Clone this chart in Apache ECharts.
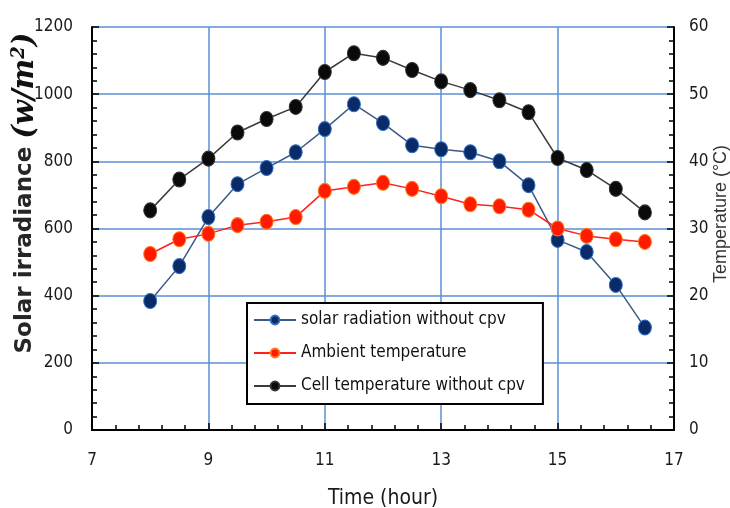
<!DOCTYPE html>
<html>
<head>
<meta charset="utf-8">
<script src="https://cdn.jsdelivr.net/npm/echarts@6/dist/echarts.min.js"></script>
<style>
  html, body { margin: 0; padding: 0; background: #fff; }
  #chart { width: 730px; height: 508px; }
</style>
</head>
<body>
<div id="chart"></div>
<script>
// values
const hours = [8, 8.5, 9, 9.5, 10, 10.5, 11, 11.5, 12, 12.5, 13, 13.5, 14, 14.5, 15, 15.5, 16, 16.5];
const solarRadiation = [384, 488, 634, 732, 780, 827, 896, 970, 914, 848, 836, 827, 800, 729, 566, 530, 432, 305];
const ambientTemp = [26.2, 28.4, 29.2, 30.5, 31.0, 31.7, 35.6, 36.2, 36.8, 35.9, 34.8, 33.6, 33.3, 32.8, 30.0, 28.9, 28.4, 28.0];
const cellTemp = [32.7, 37.3, 40.4, 44.3, 46.3, 48.1, 53.3, 56.1, 55.4, 53.6, 51.9, 50.6, 49.1, 47.3, 40.5, 38.7, 35.9, 32.4];
const seriesNames = ["solar radiation without cpv", "Ambient temperature", "Cell temperature without cpv"];

const narrow = "'Liberation Sans Narrow', 'DejaVu Sans Condensed', sans-serif";
const gridBlue = "#5b8fd6";

const pairs = (vals) => hours.map((h, i) => [h, vals[i]]);

const chart = echarts.init(document.getElementById("chart"));

const axisCommon = {
  axisLine: { show: true, lineStyle: { color: "#000", width: 2 } },
  axisTick: { show: true, inside: true, length: 7, lineStyle: { color: "#000", width: 1.5 } },
  minorTick: { show: true, splitNumber: 5, length: 5, lineStyle: { color: "#000", width: 1.5 } },
  axisLabel: { color: "#1a1a1a", fontFamily: narrow, fontSize: 17, formatter: (v) => String(v) },
};

const option = {
  animation: false,
  grid: { left: 92, right: 56, top: 27, bottom: 78, outerBoundsMode: "none", containLabel: false },
  legend: {
    data: seriesNames,
    orient: "vertical",
    left: 247,
    top: 303,
    backgroundColor: "#fff",
    borderColor: "#000",
    borderWidth: 2,
    borderRadius: 0,
    padding: [7, 18, 8, 6],
    itemGap: 13,
    itemWidth: 42,
    itemHeight: 11,
    textStyle: { color: "#111", fontFamily: narrow, fontSize: 17, lineHeight: 20 },
  },
  xAxis: [
    {
      ...axisCommon,
      type: "value",
      min: 7,
      max: 17,
      interval: 2,
      axisLabel: { ...axisCommon.axisLabel, margin: 22 },
      splitLine: { show: true, lineStyle: { color: gridBlue, width: 1.5 } },
      name: "Time (hour)",
      nameLocation: "middle",
      nameGap: 58,
      nameTextStyle: { color: "#1a1a1a", fontFamily: narrow, fontSize: 21 },
    },
    {
      type: "value",
      position: "top",
      min: 7,
      max: 17,
      axisLine: { show: true, lineStyle: { color: "#000", width: 2 } },
      axisTick: { show: false },
      axisLabel: { show: false },
      splitLine: { show: false },
    },
  ],
  yAxis: [
    {
      ...axisCommon,
      type: "value",
      min: 0,
      max: 1200,
      interval: 200,
      axisLabel: { ...axisCommon.axisLabel, margin: 19 },
      splitLine: { show: true, lineStyle: { color: gridBlue, width: 1.5 } },
    },
    {
      ...axisCommon,
      type: "value",
      position: "right",
      min: 0,
      max: 60,
      interval: 10,
      axisLabel: { ...axisCommon.axisLabel, margin: 15 },
      splitLine: { show: false },
    },
  ],
  graphic: [
    {
      type: "text",
      x: 25,
      y: 193,
      rotation: Math.PI / 2,
      style: {
        text: "{a|Solar irradiance }{b|(w/m}{s|2}{b|)}",
        align: "center",
        verticalAlign: "middle",
        rich: {
          a: { fontFamily: "'DejaVu Sans', sans-serif", fontWeight: "bold", fontSize: 23, fill: "#262626" },
          b: { fontFamily: "'DejaVu Serif', serif", fontStyle: "italic", fontWeight: "bold", fontSize: 29, fill: "#111" },
          s: { fontFamily: "'DejaVu Serif', serif", fontStyle: "italic", fontWeight: "bold", fontSize: 18, fill: "#111", verticalAlign: "top" },
        },
      },
    },
    {
      type: "text",
      x: 721,
      y: 214,
      rotation: Math.PI / 2,
      style: {
        text: "Temperature (°C)",
        align: "center",
        verticalAlign: "middle",
        fontFamily: "'Liberation Sans', sans-serif",
        fontSize: 18,
        fill: "#333",
      },
    },
  ],
  series: [
    {
      name: seriesNames[0],
      type: "line",
      yAxisIndex: 0,
      data: pairs(solarRadiation),
      symbol: "circle",
      symbolSize: [13, 15],
      lineStyle: { color: "#3d5a86", width: 1.5 },
      itemStyle: { color: "#0b2b68", borderColor: "#2f6fc0", borderWidth: 1 },
    },
    {
      name: seriesNames[1],
      type: "line",
      yAxisIndex: 1,
      data: pairs(ambientTemp),
      symbol: "circle",
      symbolSize: [13, 15],
      lineStyle: { color: "#ff2020", width: 1.5 },
      itemStyle: { color: "#ff1a00", borderColor: "#ff7a1a", borderWidth: 1 },
    },
    {
      name: seriesNames[2],
      type: "line",
      yAxisIndex: 1,
      data: pairs(cellTemp),
      symbol: "circle",
      symbolSize: [13, 15],
      lineStyle: { color: "#3a3a3a", width: 1.5 },
      itemStyle: { color: "#0a0a0a", borderColor: "#333", borderWidth: 1 },
    },
  ],
};

chart.setOption(option);
</script>
</body>
</html>
